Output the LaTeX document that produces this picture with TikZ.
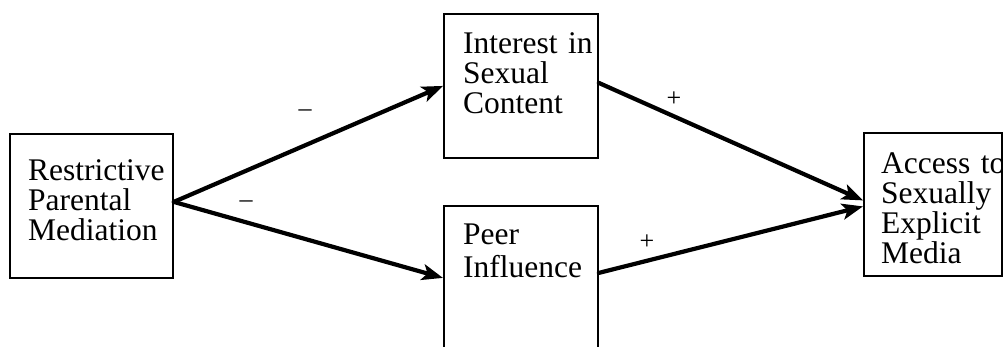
\documentclass[tikz,border=0pt]{standalone}
\usepackage{fontspec}
\setmainfont{Liberation Serif}
\usetikzlibrary{arrows.meta}
\begin{document}
\begin{tikzpicture}[x=1pt,y=-1pt,
  box/.style={draw=black, line width=1.8pt, inner sep=0pt, anchor=north west},
  txt/.style={inner sep=0pt, anchor=base west, align=left, text width=180pt,
    font=\fontsize{31.5}{30}\selectfont},
  path/.style={line width=4.2pt, line cap=round, line join=round,
    -{Stealth[length=21pt,width=16pt,inset=5pt]}},
  sign/.style={inner sep=0pt, font=\fontsize{26}{28}\selectfont}
]
\useasboundingbox (0,0) rectangle (1003,346);

% boxes
\node[box, minimum width=163pt, minimum height=144pt] (rpm) at (9,133) {};
\node[box, minimum width=154pt, minimum height=144pt] (interest) at (443,13) {};
\node[box, minimum width=154pt, minimum height=144pt] (peer) at (443,205) {};
\node[box, minimum width=138pt, minimum height=143pt] (access) at (863,132) {};

% box texts
\node[txt] (rpmtext) at (28,180) {Restrictive\\Parental\\Mediation};
\node[txt] (interesttext) at (463,53) {Interest in\\Sexual\\Content};
\node[txt] (peertext) at (463,244) {Peer\\[3pt]Influence};
\node[txt] (accesstext) at (881,173) {Access to\\Sexually\\Explicit\\Media};

% paths
\coordinate (rpmout) at ([yshift=4pt]rpm.east);
\draw[path] (rpmout) -- (interest.west);
\draw[path] (rpmout) -- (peer.west);
\draw[path] ([yshift=3pt]interest.east) -- ([yshift=4pt]access.west);
\draw[path] ([yshift=5pt]peer.east) -- ([yshift=-2pt]access.west);

% signs
\node[sign] (s1) at (305,113) {–};
\node[sign] (s2) at (246,204) {–};
\node[sign] (s3) at (674,99) {+};
\node[sign] (s4) at (647,242) {+};
\end{tikzpicture}
\end{document}
